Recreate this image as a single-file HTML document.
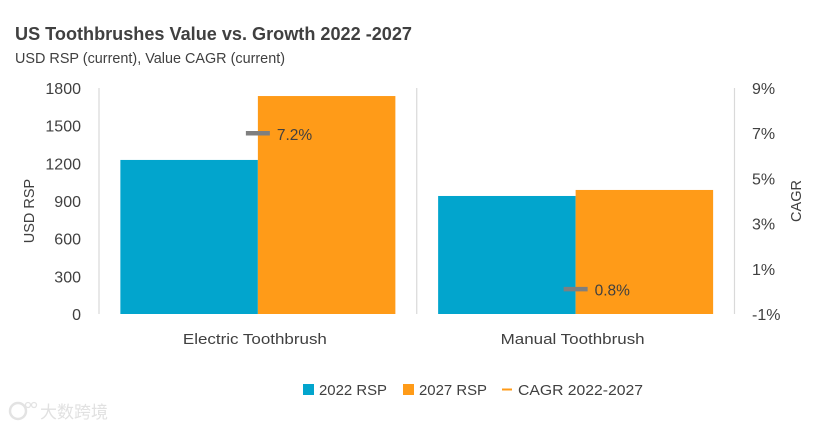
<!DOCTYPE html>
<html lang="en">
<head>
<meta charset="utf-8">
<title>US Toothbrushes Value vs. Growth 2022-2027</title>
<style>
html,body{margin:0;padding:0;background:#fff;width:821px;height:427px;overflow:hidden}
svg{display:block}
text{font-family:"Liberation Sans","Noto Sans CJK SC",sans-serif;fill:#404040}
</style>
</head>
<body>
<svg id="chart" width="821" height="427" viewBox="0 0 821 427" xmlns="http://www.w3.org/2000/svg">
  <text x="15" y="40" font-size="18" font-weight="700" textLength="397" lengthAdjust="spacingAndGlyphs">US Toothbrushes Value vs. Growth 2022 -2027</text>
  <text x="15" y="63" font-size="14.5" textLength="270" lengthAdjust="spacingAndGlyphs">USD RSP (current), Value CAGR (current)</text>
  <text transform="translate(34,211) rotate(-90)" text-anchor="middle" font-size="14.5">USD RSP</text>
  <text transform="translate(801,201) rotate(-90)" text-anchor="middle" font-size="14.5">CAGR</text>
  <g id="plot"></g>
  <g>
    <rect x="303" y="384" width="11" height="11" fill="#02a5cd"/>
    <text x="319" y="395" font-size="15" textLength="68" lengthAdjust="spacingAndGlyphs">2022 RSP</text>
    <rect x="403" y="384" width="11" height="11" fill="#ff9b18"/>
    <text x="419" y="395" font-size="15" textLength="68" lengthAdjust="spacingAndGlyphs">2027 RSP</text>
    <line x1="502" x2="512" y1="389.5" y2="389.5" stroke="#ff9b18" stroke-width="2"/>
    <text x="518" y="395" font-size="15" textLength="125" lengthAdjust="spacingAndGlyphs">CAGR 2022-2027</text>
  </g>
  <g opacity="0.95">
    <circle cx="18" cy="411" r="8" fill="none" stroke="#e2e2e2" stroke-width="2.5"/>
    <circle cx="28" cy="405" r="2.5" fill="none" stroke="#e2e2e2" stroke-width="1.3"/>
    <circle cx="34" cy="405" r="2.5" fill="none" stroke="#e2e2e2" stroke-width="1.3"/>
    <text x="40" y="418" font-size="17" style="fill:#e0e0e0">大数跨境</text>
  </g>
</svg>
<script>
const categories = ["Electric Toothbrush", "Manual Toothbrush"];
const rsp2022 = [1227, 940];
const rsp2027 = [1736, 988];
const cagr = [7.2, 0.8];
const leftTicks = [0, 300, 600, 900, 1200, 1500, 1800];
const rightTickLabels = ["-1%", "1%", "3%", "5%", "7%", "9%"];
const leftDomain = [0, 1800];
const rightDomain = [-0.22, 9.06];

const plot = document.getElementById('plot');
const NS = 'http://www.w3.org/2000/svg';
const top_ = 88, bottom = 314, left = 99, right = 734.5;
const bandW = (right - left) / categories.length;
const yLeft = v => bottom - (v - leftDomain[0]) / (leftDomain[1] - leftDomain[0]) * (bottom - top_);
const yRight = v => bottom - (v - rightDomain[0]) / (rightDomain[1] - rightDomain[0]) * (bottom - top_);
const bandCenter = i => left + bandW * (i + 0.5);
const barW = 137.5;

function make(tag, attrs, text) {
  const el = document.createElementNS(NS, tag);
  for (const k in attrs) el.setAttribute(k, attrs[k]);
  if (text !== undefined) el.textContent = text;
  plot.appendChild(el);
  return el;
}

[0, 1, 2].forEach(i => {
  const x = left + bandW * i;
  const el = make('line', {x1: x, x2: x, y1: top_, y2: bottom, stroke: '#d9d9d9', 'stroke-width': 1.2});
  
  
});

leftTicks.forEach(t => {
  const el = make('text', {x: 81, y: yLeft(t) + 6, 'text-anchor': 'end', 'font-size': 16}, String(t));
  
  
});

rightTickLabels.forEach((t, i) => {
  const y = bottom - i / (rightTickLabels.length - 1) * (bottom - top_);
  const el = make('text', {x: 752, y: y + 6, 'font-size': 16}, t);
  
  
});

categories.forEach((c, i) => {
  const cx = bandCenter(i);
  const a = make('rect', {x: cx - barW, y: yLeft(rsp2022[i]), width: barW, height: bottom - yLeft(rsp2022[i]), fill: '#02a5cd'});
  
  
  const b = make('rect', {x: cx, y: yLeft(rsp2027[i]), width: barW, height: bottom - yLeft(rsp2027[i]), fill: '#ff9b18'});
  
  
  const m = make('line', {x1: cx - 12, x2: cx + 12, y1: yRight(cagr[i]), y2: yRight(cagr[i]), stroke: '#7f7f7f', 'stroke-width': 4.5});
  
  
  const l = make('text', {x: cx + 19, y: yRight(cagr[i]) + 6.5, 'font-size': 15.5}, cagr[i].toFixed(1) + '%');
  
  
  const t = make('text', {x: cx - 3, y: 344, 'text-anchor': 'middle', 'font-size': 15, textLength: 144, lengthAdjust: 'spacingAndGlyphs'}, c);
  
  
});
</script>
</body>
</html>
